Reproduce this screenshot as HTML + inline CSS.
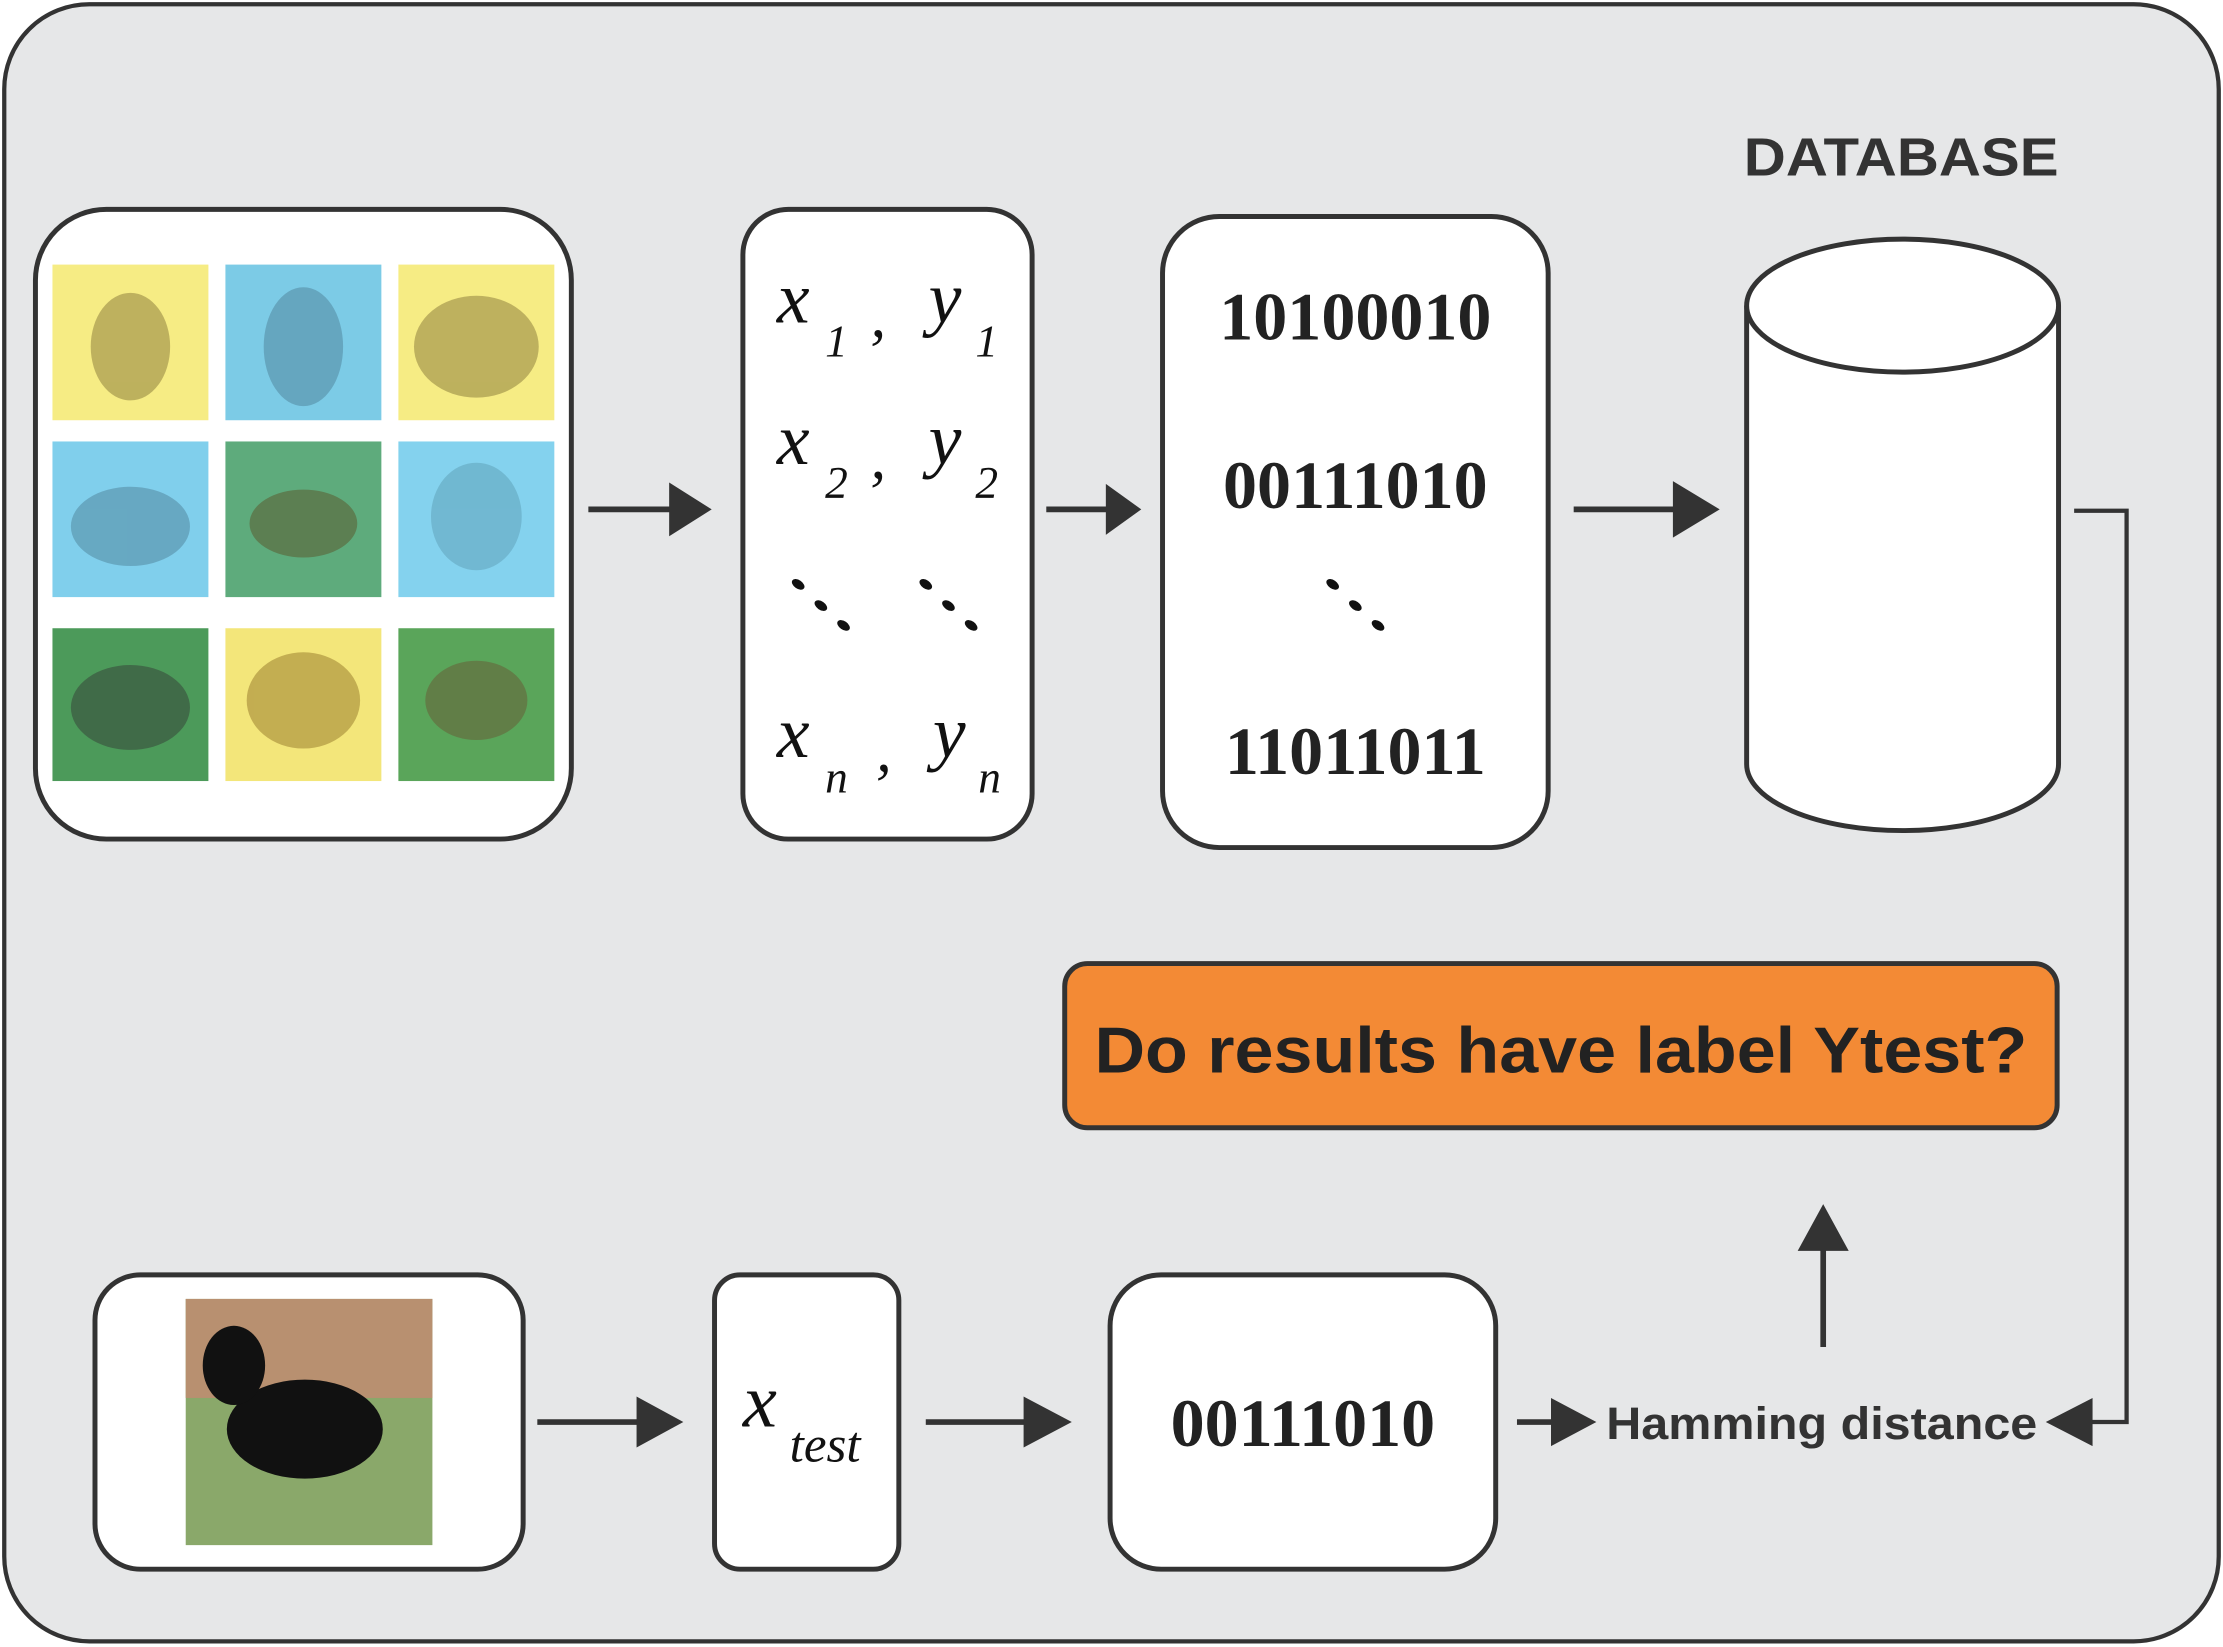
<!DOCTYPE html>
<html><head><meta charset="utf-8"><style>
html,body{margin:0;padding:0;background:#fff;}
svg{display:block;}
</style></head><body>
<svg width="2223" height="1647" viewBox="0 0 1568 1164" preserveAspectRatio="none" xmlns="http://www.w3.org/2000/svg">
<rect x="3" y="3" width="1562" height="1157" rx="60" fill="#e6e7e8" stroke="#333" stroke-width="3"/>
<!-- images box -->
<rect x="25" y="148" width="378" height="445" rx="50" fill="#fff" stroke="#333" stroke-width="3.5"/>
<g>
<rect x="37" y="187" width="110" height="110" fill="#f6ec84"/>
<rect x="159" y="187" width="110" height="110" fill="#7ccbe6"/>
<rect x="281" y="187" width="110" height="110" fill="#f6ec84"/>
<rect x="37" y="312" width="110" height="110" fill="#80cfec"/>
<rect x="159" y="312" width="110" height="110" fill="#5eab7c"/>
<rect x="281" y="312" width="110" height="110" fill="#84d2ee"/>
<rect x="37" y="444" width="110" height="108" fill="#4c9a5a"/>
<rect x="159" y="444" width="110" height="108" fill="#f3e67a"/>
<rect x="281" y="444" width="110" height="108" fill="#5aa55a"/>
</g>
<g fill="#7a6a30" opacity="0.45">
<ellipse cx="92" cy="245" rx="28" ry="38"/><ellipse cx="214" cy="245" rx="28" ry="42" fill="#4a7a90"/><ellipse cx="336" cy="245" rx="44" ry="36"/>
<ellipse cx="92" cy="372" rx="42" ry="28" fill="#4a7a90"/><ellipse cx="214" cy="370" rx="38" ry="24" fill="#5a4a20"/><ellipse cx="336" cy="365" rx="32" ry="38" fill="#5a9ab0"/>
<ellipse cx="92" cy="500" rx="42" ry="30" fill="#333"/><ellipse cx="214" cy="495" rx="40" ry="34" fill="#8a6a20"/><ellipse cx="336" cy="495" rx="36" ry="28" fill="#6a5030"/>
</g>
<!-- arrows -->
<g stroke="#333" stroke-width="4" fill="#333">
<line x1="415" y1="360" x2="478" y2="360"/><polygon points="472,341 502,360 472,379" stroke="none"/>
<line x1="738" y1="360" x2="785" y2="360"/><polygon points="780,342 805,360 780,378" stroke="none"/>
<line x1="1110" y1="360" x2="1185" y2="360"/><polygon points="1180,340 1213,360 1180,380" stroke="none"/>
<line x1="379" y1="1005" x2="455" y2="1005"/><polygon points="449,987 482,1005 449,1023" stroke="none"/>
<line x1="653" y1="1005" x2="728" y2="1005"/><polygon points="722,987 756,1005 722,1023" stroke="none"/>
<line x1="1070" y1="1005" x2="1100" y2="1005"/><polygon points="1094,988 1126,1005 1094,1022" stroke="none"/>
<polyline points="1463,361 1500,361 1500,1005 1470,1005" fill="none" stroke-width="3"/><polygon points="1476,988 1443,1005 1476,1022" stroke="none"/>
<line x1="1286" y1="952" x2="1286" y2="880"/><polygon points="1268,884 1286,851 1304,884" stroke="none"/>
</g>
<!-- boxes -->
<rect x="524" y="148" width="204" height="445" rx="32" fill="#fff" stroke="#333" stroke-width="3.5"/>
<rect x="820" y="153" width="272" height="446" rx="40" fill="#fff" stroke="#333" stroke-width="3.5"/>
<rect x="504" y="901" width="130" height="208" rx="18" fill="#fff" stroke="#333" stroke-width="3.5"/>
<g font-family="Liberation Serif, serif" font-style="italic" fill="#111">
<text x="548" y="228" font-size="52">x</text><text x="582" y="252" font-size="32">1</text><text x="614" y="238" font-size="44">,</text><text x="655" y="228" font-size="52">y</text><text x="688" y="252" font-size="32">1</text>
<text x="548" y="328" font-size="52">x</text><text x="582" y="352" font-size="32">2</text><text x="614" y="338" font-size="44">,</text><text x="655" y="328" font-size="52">y</text><text x="688" y="352" font-size="32">2</text>
<text x="548" y="535" font-size="52">x</text><text x="582" y="560" font-size="32">n</text><text x="618" y="545" font-size="44">,</text><text x="658" y="535" font-size="52">y</text><text x="690" y="560" font-size="32">n</text>
<text x="524" y="1008" font-size="54">x</text><text x="557" y="1033" font-size="36">test</text>
</g>
<g fill="#111">
<ellipse cx="563" cy="413" rx="5" ry="3" transform="rotate(35 563 413)"/><ellipse cx="579" cy="428" rx="5" ry="3" transform="rotate(35 579 428)"/><ellipse cx="595" cy="442" rx="5" ry="3" transform="rotate(35 595 442)"/>
<ellipse cx="653" cy="413" rx="5" ry="3" transform="rotate(35 653 413)"/><ellipse cx="669" cy="428" rx="5" ry="3" transform="rotate(35 669 428)"/><ellipse cx="685" cy="442" rx="5" ry="3" transform="rotate(35 685 442)"/>
<ellipse cx="940" cy="413" rx="5" ry="3" transform="rotate(35 940 413)"/><ellipse cx="956" cy="428" rx="5" ry="3" transform="rotate(35 956 428)"/><ellipse cx="972" cy="442" rx="5" ry="3" transform="rotate(35 972 442)"/>
</g>
<g font-family="Liberation Serif, serif" font-weight="bold" font-size="48" fill="#222" text-anchor="middle">
<text x="956" y="240">10100010</text>
<text x="956" y="359">00111010</text>
<text x="956" y="547">11011011</text>
</g>
<!-- database -->
<text x="1341" y="124" font-family="Liberation Sans, sans-serif" font-weight="bold" font-size="38" fill="#333" text-anchor="middle" textLength="222" lengthAdjust="spacingAndGlyphs">DATABASE</text>
<path d="M1232,216 L1232,540 A110,47 0 0 0 1452,540 L1452,216" fill="#fff" stroke="#333" stroke-width="3.5"/>
<ellipse cx="1342" cy="216" rx="110" ry="47" fill="#fff" stroke="#333" stroke-width="3.5"/>
<!-- orange -->
<rect x="751" y="681" width="700" height="116" rx="16" fill="#f38a35" stroke="#333" stroke-width="3.5"/>
<text x="772" y="758" font-family="Liberation Sans, sans-serif" font-weight="bold" font-size="46" fill="#222" textLength="658" lengthAdjust="spacingAndGlyphs">Do results have label Ytest?</text>
<!-- bottom -->
<rect x="67" y="901" width="302" height="208" rx="32" fill="#fff" stroke="#333" stroke-width="3.5"/>
<rect x="131" y="918" width="174" height="174" fill="#8aa86a"/>
<rect x="131" y="918" width="174" height="70" fill="#b89070"/>
<ellipse cx="215" cy="1010" rx="55" ry="35" fill="#111"/>
<ellipse cx="165" cy="965" rx="22" ry="28" fill="#111"/>
<rect x="783" y="901" width="272" height="208" rx="36" fill="#fff" stroke="#333" stroke-width="3.5"/>
<text x="919" y="1022" font-family="Liberation Serif, serif" font-weight="bold" font-size="48" fill="#222" text-anchor="middle">00111010</text>
<text x="1133" y="1017" font-family="Liberation Sans, sans-serif" font-weight="bold" font-size="32" fill="#333" textLength="304" lengthAdjust="spacingAndGlyphs">Hamming distance</text>
</svg>
</body></html>
